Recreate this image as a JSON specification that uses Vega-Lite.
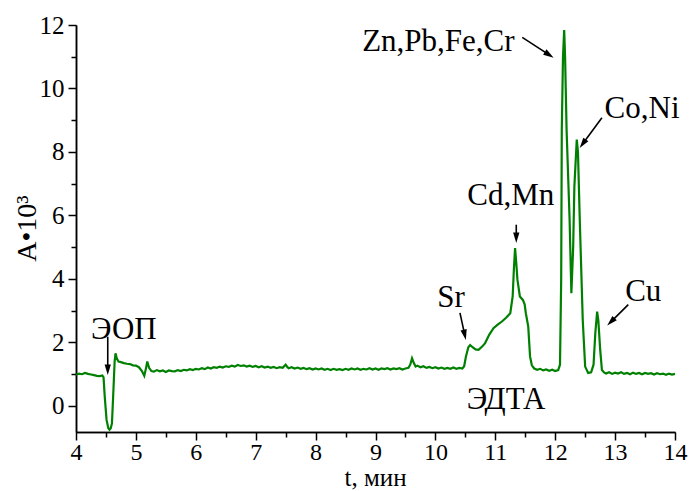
{
  "$schema": "https://vega.github.io/schema/vega-lite/v6.json",
  "width": 599,
  "height": 407,
  "autosize": "none",
  "padding": {"left": 76, "top": 25, "right": 14, "bottom": 59},
  "background": "white",
  "config": {
    "view": {"stroke": null},
    "font": "'Liberation Serif', 'DejaVu Serif', serif",
    "text": {"font": "'Liberation Serif', 'DejaVu Serif', serif"},
    "axis": {
      "grid": false,
      "domainColor": "black",
      "domainWidth": 1.5,
      "tickColor": "black",
      "tickWidth": 1.5,
      "labelFont": "'Liberation Serif', 'DejaVu Serif', serif",
      "labelFontSize": 25,
      "labelColor": "black",
      "titleFont": "'Liberation Serif', 'DejaVu Serif', serif",
      "titleFontWeight": "normal",
      "titleColor": "black",
      "titleFontSize": 28
    }
  },
  "datasets": {
    "curve": [
      {"t": 4.00, "A": 0.98}, {"t": 4.05, "A": 1.02}, {"t": 4.10, "A": 1.00}, {"t": 4.15, "A": 1.04},
      {"t": 4.20, "A": 1.01}, {"t": 4.25, "A": 0.99}, {"t": 4.30, "A": 0.97}, {"t": 4.35, "A": 0.95},
      {"t": 4.40, "A": 0.94}, {"t": 4.44, "A": 0.96}, {"t": 4.46, "A": 0.90}, {"t": 4.48, "A": 0.29},
      {"t": 4.51, "A": -0.44}, {"t": 4.54, "A": -0.70}, {"t": 4.56, "A": -0.75}, {"t": 4.58, "A": -0.70},
      {"t": 4.60, "A": -0.55}, {"t": 4.62, "A": 0.29}, {"t": 4.645, "A": 1.40}, {"t": 4.66, "A": 1.66},
      {"t": 4.68, "A": 1.50}, {"t": 4.71, "A": 1.40}, {"t": 4.75, "A": 1.38}, {"t": 4.80, "A": 1.35},
      {"t": 4.85, "A": 1.33}, {"t": 4.90, "A": 1.32}, {"t": 4.95, "A": 1.28}, {"t": 5.00, "A": 1.27},
      {"t": 5.05, "A": 1.22}, {"t": 5.10, "A": 1.10}, {"t": 5.14, "A": 0.95}, {"t": 5.17, "A": 1.20},
      {"t": 5.19, "A": 1.40}, {"t": 5.22, "A": 1.20}, {"t": 5.26, "A": 1.10},
      {"t": 5.30, "A": 1.08}, {"t": 5.35, "A": 1.13}, {"t": 5.40, "A": 1.09}, {"t": 5.45, "A": 1.12},
      {"t": 5.50, "A": 1.07}, {"t": 5.55, "A": 1.12}, {"t": 5.60, "A": 1.10}, {"t": 5.65, "A": 1.09},
      {"t": 5.70, "A": 1.13}, {"t": 5.75, "A": 1.10}, {"t": 5.80, "A": 1.14}, {"t": 5.85, "A": 1.12},
      {"t": 5.90, "A": 1.16}, {"t": 5.95, "A": 1.13}, {"t": 6.00, "A": 1.17}, {"t": 6.05, "A": 1.15},
      {"t": 6.10, "A": 1.19}, {"t": 6.15, "A": 1.16}, {"t": 6.20, "A": 1.21}, {"t": 6.25, "A": 1.18},
      {"t": 6.30, "A": 1.22}, {"t": 6.35, "A": 1.20}, {"t": 6.40, "A": 1.24}, {"t": 6.45, "A": 1.21},
      {"t": 6.50, "A": 1.25}, {"t": 6.55, "A": 1.23}, {"t": 6.60, "A": 1.27}, {"t": 6.65, "A": 1.24},
      {"t": 6.70, "A": 1.29}, {"t": 6.75, "A": 1.26}, {"t": 6.80, "A": 1.28}, {"t": 6.85, "A": 1.24},
      {"t": 6.90, "A": 1.27}, {"t": 6.95, "A": 1.23}, {"t": 7.00, "A": 1.26}, {"t": 7.05, "A": 1.22},
      {"t": 7.10, "A": 1.25}, {"t": 7.15, "A": 1.21}, {"t": 7.20, "A": 1.24}, {"t": 7.25, "A": 1.20},
      {"t": 7.30, "A": 1.23}, {"t": 7.35, "A": 1.19}, {"t": 7.40, "A": 1.22}, {"t": 7.45, "A": 1.20},
      {"t": 7.50, "A": 1.30}, {"t": 7.53, "A": 1.22}, {"t": 7.55, "A": 1.19}, {"t": 7.60, "A": 1.22},
      {"t": 7.65, "A": 1.18}, {"t": 7.70, "A": 1.21}, {"t": 7.75, "A": 1.17}, {"t": 7.80, "A": 1.20},
      {"t": 7.85, "A": 1.16}, {"t": 7.90, "A": 1.19}, {"t": 7.95, "A": 1.15}, {"t": 8.00, "A": 1.18},
      {"t": 8.05, "A": 1.15}, {"t": 8.10, "A": 1.18}, {"t": 8.15, "A": 1.14}, {"t": 8.20, "A": 1.17},
      {"t": 8.25, "A": 1.13}, {"t": 8.30, "A": 1.17}, {"t": 8.35, "A": 1.14}, {"t": 8.40, "A": 1.16},
      {"t": 8.45, "A": 1.13}, {"t": 8.50, "A": 1.17}, {"t": 8.55, "A": 1.14}, {"t": 8.60, "A": 1.18},
      {"t": 8.65, "A": 1.15}, {"t": 8.70, "A": 1.18}, {"t": 8.75, "A": 1.14}, {"t": 8.80, "A": 1.17},
      {"t": 8.85, "A": 1.15}, {"t": 8.90, "A": 1.19}, {"t": 8.95, "A": 1.15}, {"t": 9.00, "A": 1.18},
      {"t": 9.05, "A": 1.14}, {"t": 9.10, "A": 1.18}, {"t": 9.15, "A": 1.16}, {"t": 9.20, "A": 1.19},
      {"t": 9.25, "A": 1.15}, {"t": 9.30, "A": 1.18}, {"t": 9.35, "A": 1.16}, {"t": 9.40, "A": 1.19},
      {"t": 9.45, "A": 1.15}, {"t": 9.50, "A": 1.18}, {"t": 9.55, "A": 1.20}, {"t": 9.58, "A": 1.30},
      {"t": 9.61, "A": 1.50}, {"t": 9.64, "A": 1.35}, {"t": 9.67, "A": 1.24}, {"t": 9.70, "A": 1.27},
      {"t": 9.75, "A": 1.22}, {"t": 9.80, "A": 1.25}, {"t": 9.85, "A": 1.20}, {"t": 9.90, "A": 1.23},
      {"t": 9.95, "A": 1.19}, {"t": 10.00, "A": 1.22}, {"t": 10.05, "A": 1.18}, {"t": 10.10, "A": 1.21},
      {"t": 10.15, "A": 1.17}, {"t": 10.20, "A": 1.20}, {"t": 10.25, "A": 1.17}, {"t": 10.30, "A": 1.21},
      {"t": 10.35, "A": 1.17}, {"t": 10.40, "A": 1.20}, {"t": 10.45, "A": 1.18}, {"t": 10.48, "A": 1.25},
      {"t": 10.51, "A": 1.56}, {"t": 10.55, "A": 1.85}, {"t": 10.58, "A": 1.92}, {"t": 10.62, "A": 1.85},
      {"t": 10.67, "A": 1.78}, {"t": 10.72, "A": 1.77}, {"t": 10.78, "A": 1.87}, {"t": 10.83, "A": 1.98},
      {"t": 10.90, "A": 2.25}, {"t": 10.97, "A": 2.45}, {"t": 11.04, "A": 2.56}, {"t": 11.11, "A": 2.66},
      {"t": 11.18, "A": 2.78}, {"t": 11.25, "A": 2.92}, {"t": 11.29, "A": 3.45}, {"t": 11.31, "A": 4.30},
      {"t": 11.33, "A": 4.97}, {"t": 11.35, "A": 4.50}, {"t": 11.37, "A": 3.97}, {"t": 11.41, "A": 3.45},
      {"t": 11.46, "A": 3.34}, {"t": 11.49, "A": 3.20}, {"t": 11.51, "A": 2.92}, {"t": 11.55, "A": 2.50},
      {"t": 11.58, "A": 1.56}, {"t": 11.61, "A": 1.28}, {"t": 11.65, "A": 1.18}, {"t": 11.70, "A": 1.14},
      {"t": 11.75, "A": 1.17}, {"t": 11.80, "A": 1.12}, {"t": 11.85, "A": 1.15}, {"t": 11.90, "A": 1.11},
      {"t": 11.95, "A": 1.14}, {"t": 12.00, "A": 1.10}, {"t": 12.05, "A": 1.13}, {"t": 12.08, "A": 1.30},
      {"t": 12.10, "A": 4.00}, {"t": 12.11, "A": 8.70}, {"t": 12.13, "A": 11.00}, {"t": 12.15, "A": 11.84},
      {"t": 12.165, "A": 11.00}, {"t": 12.19, "A": 8.70}, {"t": 12.24, "A": 5.90}, {"t": 12.27, "A": 3.55},
      {"t": 12.30, "A": 5.00}, {"t": 12.32, "A": 6.90}, {"t": 12.36, "A": 8.39}, {"t": 12.38, "A": 8.00},
      {"t": 12.41, "A": 5.87}, {"t": 12.46, "A": 2.70}, {"t": 12.50, "A": 1.24}, {"t": 12.55, "A": 1.04},
      {"t": 12.60, "A": 1.06}, {"t": 12.64, "A": 1.30}, {"t": 12.67, "A": 2.30}, {"t": 12.70, "A": 2.97},
      {"t": 12.72, "A": 2.70}, {"t": 12.75, "A": 1.80}, {"t": 12.78, "A": 1.13}, {"t": 12.82, "A": 1.05},
      {"t": 12.85, "A": 1.02}, {"t": 12.90, "A": 1.06}, {"t": 12.95, "A": 1.01}, {"t": 13.00, "A": 1.05},
      {"t": 13.05, "A": 1.02}, {"t": 13.10, "A": 1.06}, {"t": 13.15, "A": 1.01}, {"t": 13.20, "A": 1.04},
      {"t": 13.25, "A": 1.00}, {"t": 13.30, "A": 1.05}, {"t": 13.35, "A": 1.01}, {"t": 13.40, "A": 1.04},
      {"t": 13.45, "A": 1.00}, {"t": 13.50, "A": 1.04}, {"t": 13.55, "A": 1.01}, {"t": 13.60, "A": 1.03},
      {"t": 13.65, "A": 0.99}, {"t": 13.70, "A": 1.03}, {"t": 13.75, "A": 1.00}, {"t": 13.80, "A": 1.02},
      {"t": 13.85, "A": 0.98}, {"t": 13.90, "A": 1.02}, {"t": 13.95, "A": 0.99}, {"t": 14.00, "A": 1.01}
    ],
    "labels": [
      {"t": 4.80, "A": 2.40, "label": "ЭОП"},
      {"t": 10.26, "A": 3.41, "label": "Sr"},
      {"t": 11.26, "A": 6.62, "label": "Cd,Mn"},
      {"t": 10.05, "A": 11.48, "label": "Zn,Pb,Fe,Cr"},
      {"t": 13.45, "A": 9.34, "label": "Co,Ni"},
      {"t": 13.47, "A": 3.60, "label": "Cu"},
      {"t": 11.18, "A": 0.19, "label": "ЭДТА"}
    ],
    "arrows": [
      {"t": 4.53, "A": 2.18, "t2": 4.53, "A2": 1.14, "angle": 180},
      {"t": 10.41, "A": 2.93, "t2": 10.49, "A2": 2.24, "angle": 167.5},
      {"t": 11.35, "A": 5.71, "t2": 11.35, "A2": 5.30, "angle": 180},
      {"t": 11.45, "A": 11.61, "t2": 11.90, "A2": 11.06, "angle": 122.8},
      {"t": 12.78, "A": 9.08, "t2": 12.46, "A2": 8.26, "angle": 216.3},
      {"t": 13.22, "A": 3.19, "t2": 12.93, "A2": 2.65, "angle": 225}
    ]
  },
  "resolve": {"axis": {"x": "independent", "y": "independent"}},
  "layer": [
    {
      "data": {"name": "curve"},
      "mark": {"type": "line", "color": "#008000", "strokeWidth": 2.2, "clip": false},
      "encoding": {
        "x": {
          "field": "t", "type": "quantitative",
          "scale": {"domain": [4, 14], "nice": false, "zero": false},
          "axis": {
            "orient": "bottom",
            "values": [4, 5, 6, 7, 8, 9, 10, 11, 12, 13, 14],
            "tickSize": 8, "labelPadding": 0, "labelFontSize": 24, "labelFlush": false,
            "title": "t, мин", "titleFontSize": 25,
            "titleX": 299, "titleY": 53, "titleBaseline": "alphabetic", "titleAnchor": null
          }
        },
        "y": {
          "field": "A", "type": "quantitative",
          "scale": {"domain": [-0.82, 12], "nice": false, "zero": false},
          "axis": {
            "orient": "left",
            "values": [0, 2, 4, 6, 8, 10, 12],
            "tickSize": 8, "labelPadding": 4, "labelFlush": false,
            "title": "A•10³",
            "titleX": -49, "titleY": 203, "titleAngle": -90,
            "titleBaseline": "middle", "titleAlign": "center", "titleAnchor": null
          }
        }
      }
    },
    {
      "data": {"name": "arrows"},
      "mark": {"type": "rule", "color": "black", "strokeWidth": 1.6},
      "encoding": {
        "x": {
          "field": "t", "type": "quantitative",
          "axis": {
            "orient": "bottom",
            "values": [4.5, 5.5, 6.5, 7.5, 8.5, 9.5, 10.5, 11.5, 12.5, 13.5],
            "tickSize": 5, "labels": false, "title": null
          }
        },
        "y": {
          "field": "A", "type": "quantitative",
          "axis": {
            "orient": "left",
            "values": [1, 3, 5, 7, 9, 11],
            "tickSize": 5, "labels": false, "title": null
          }
        },
        "x2": {"field": "t2"},
        "y2": {"field": "A2"}
      }
    },
    {
      "data": {"name": "arrows"},
      "mark": {"type": "point", "shape": "M0,-1L0.6,1L-0.6,1Z", "filled": true, "color": "black", "size": 110, "opacity": 1},
      "encoding": {
        "x": {"field": "t2", "type": "quantitative", "axis": null},
        "y": {"field": "A2", "type": "quantitative", "axis": null},
        "angle": {"field": "angle", "type": "quantitative", "scale": null}
      }
    },
    {
      "data": {"name": "labels"},
      "mark": {"type": "text", "font": "'Liberation Serif', 'DejaVu Serif', serif", "fontSize": 31, "color": "black", "baseline": "middle", "align": "center"},
      "encoding": {
        "x": {"field": "t", "type": "quantitative", "axis": null},
        "y": {"field": "A", "type": "quantitative", "axis": null},
        "text": {"field": "label", "type": "nominal"}
      }
    }
  ]
}
